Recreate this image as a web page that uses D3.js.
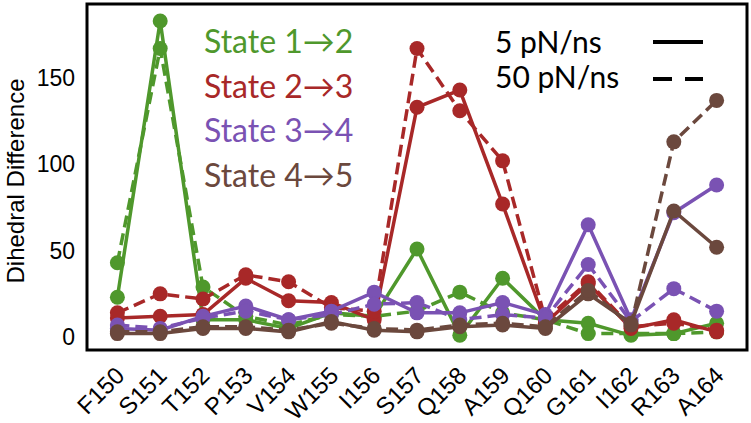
<!DOCTYPE html>
<html><head><meta charset="utf-8">
<script src="https://cdn.jsdelivr.net/npm/d3@7"></script>
<style>
html,body{margin:0;padding:0;background:#fff;}
#wrap{position:relative;width:751px;height:423px;}
#chart{position:absolute;left:0;top:0;}
.xlab{position:absolute;white-space:nowrap;font-family:'Liberation Sans',Arial,sans-serif;font-size:24px;line-height:24px;color:#000;transform-origin:100% 0;transform:rotate(-45deg);}
</style>
</head><body>
<div id="wrap"><svg id="chart" width="751" height="423"></svg></div>
<script>
const categories = ["F150","S151","T152","P153","V154","W155","I156","S157","Q158","A159","Q160","G161","I162","R163","A164"];
const yTicks = [0, 50, 100, 150];
const stateNames = ["State 1\u21922","State 2\u21923","State 3\u21924","State 4\u21925"];
const rateNames = ["5 pN/ns","50 pN/ns"];
// 5 pN/ns (solid)
const state12_slow = [23,183,10,10,5,14,12,51,1,34,10,8,1,2,8];
const state23_slow = [11,12,13,34,21,20,10,133,143,77,8,31,5,10,3];
const state34_slow = [5,4,12,18,10,15,26,14,14,20,13,65,10,72,88];
const state45_slow = [2,2,5,5,3,9,4,3,6,7,5,25,8,73,52];
// 50 pN/ns (dashed)
const state12_fast = [43,167,29,12,7,13,12,15,26,14,10,2,2,2,3];
const state23_fast = [14,25,22,36,32,17,15,167,131,102,10,32,6,8,4];
const state34_fast = [7,5,11,15,10,13,19,20,10,13,11,42,9,28,15];
const state45_fast = [3,3,6,6,4,8,5,4,7,8,6,27,7,113,137];

const colors = ["#4f982c","#a82828","#7a52b3","#6b483d"];
const series = [
  {v: state12_slow, c: 0, dash: false}, {v: state12_fast, c: 0, dash: true},
  {v: state23_slow, c: 1, dash: false}, {v: state23_fast, c: 1, dash: true},
  {v: state34_slow, c: 2, dash: false}, {v: state34_fast, c: 2, dash: true},
  {v: state45_slow, c: 3, dash: false}, {v: state45_fast, c: 3, dash: true}
];

const svg = d3.select("#chart");
const L = 87, R = 747, T = 4, B = 350;
const x = d3.scalePoint().domain(categories).range([L, R]).padding(0.71);
const y = d3.scaleLinear().domain([-7.5, 192.8]).range([B, T]);

const tickFont = "'Liberation Sans', Arial, sans-serif";
const legFont = "Lato, 'Open Sans', sans-serif";

// y axis
const ya = svg.append("g").attr("transform", `translate(${L},0)`)
  .call(d3.axisLeft(y).tickValues(yTicks).tickSize(0).tickPadding(12));
ya.select(".domain").remove();
ya.selectAll("text").attr("font-family", tickFont).attr("font-size", 23).attr("fill", "#000");

// x axis: positions from the axis scale, rotated labels as HTML overlay
const xa = svg.append("g").attr("transform", `translate(0,${B})`)
  .call(d3.axisBottom(x).tickSize(0).tickFormat(""));
xa.select(".domain").remove();
xa.selectAll("text").remove();
d3.select("#wrap").selectAll("div.xlab").data(categories).enter().append("div")
  .attr("class", "xlab")
  .style("right", d => (751 - x(d) + 6) + "px")
  .style("top", (B + 13) + "px")
  .text(d => d);

// y label
svg.append("text")
  .attr("transform", `translate(24,${(T+B)/2+4}) rotate(-90)`)
  .attr("text-anchor", "middle")
  .attr("font-family", tickFont).attr("font-size", 24).attr("fill", "#000")
  .text("Dihedral Difference");

// lines and markers
const line = d3.line().x((d, i) => x(categories[i])).y(d => y(d));
const plot = svg.append("g");
series.forEach(s => {
  plot.append("path").datum(s.v)
    .attr("d", line).attr("fill", "none")
    .attr("stroke", colors[s.c]).attr("stroke-width", 3.5)
    .attr("stroke-dasharray", s.dash ? "12,6" : null);
  plot.selectAll(null).data(s.v).enter().append("circle")
    .attr("cx", (d, i) => x(categories[i])).attr("cy", d => y(d))
    .attr("r", 7.5).attr("fill", colors[s.c]);
});

// frame
svg.append("rect").attr("x", L).attr("y", T).attr("width", R - L).attr("height", B - T)
  .attr("fill", "none").attr("stroke", "#000").attr("stroke-width", 3);

// state legend
stateNames.forEach((n, i) => {
  svg.append("text").attr("x", 204).attr("y", 53 + i * 44.5)
    .attr("font-family", legFont).attr("font-size", 32).attr("fill", colors[i])
    .text(n);
});
// rate legend
rateNames.forEach((n, i) => {
  const by = 53 + i * 35;
  svg.append("text").attr("x", 495).attr("y", by)
    .attr("font-family", legFont).attr("font-size", 30).attr("fill", "#000")
    .text(n);
  svg.append("line").attr("x1", 653).attr("x2", 703)
    .attr("y1", 42 + i * 37).attr("y2", 42 + i * 37)
    .attr("stroke", "#000").attr("stroke-width", 4)
    .attr("stroke-dasharray", i === 0 ? null : "19,13");
});
</script>
</body></html>
